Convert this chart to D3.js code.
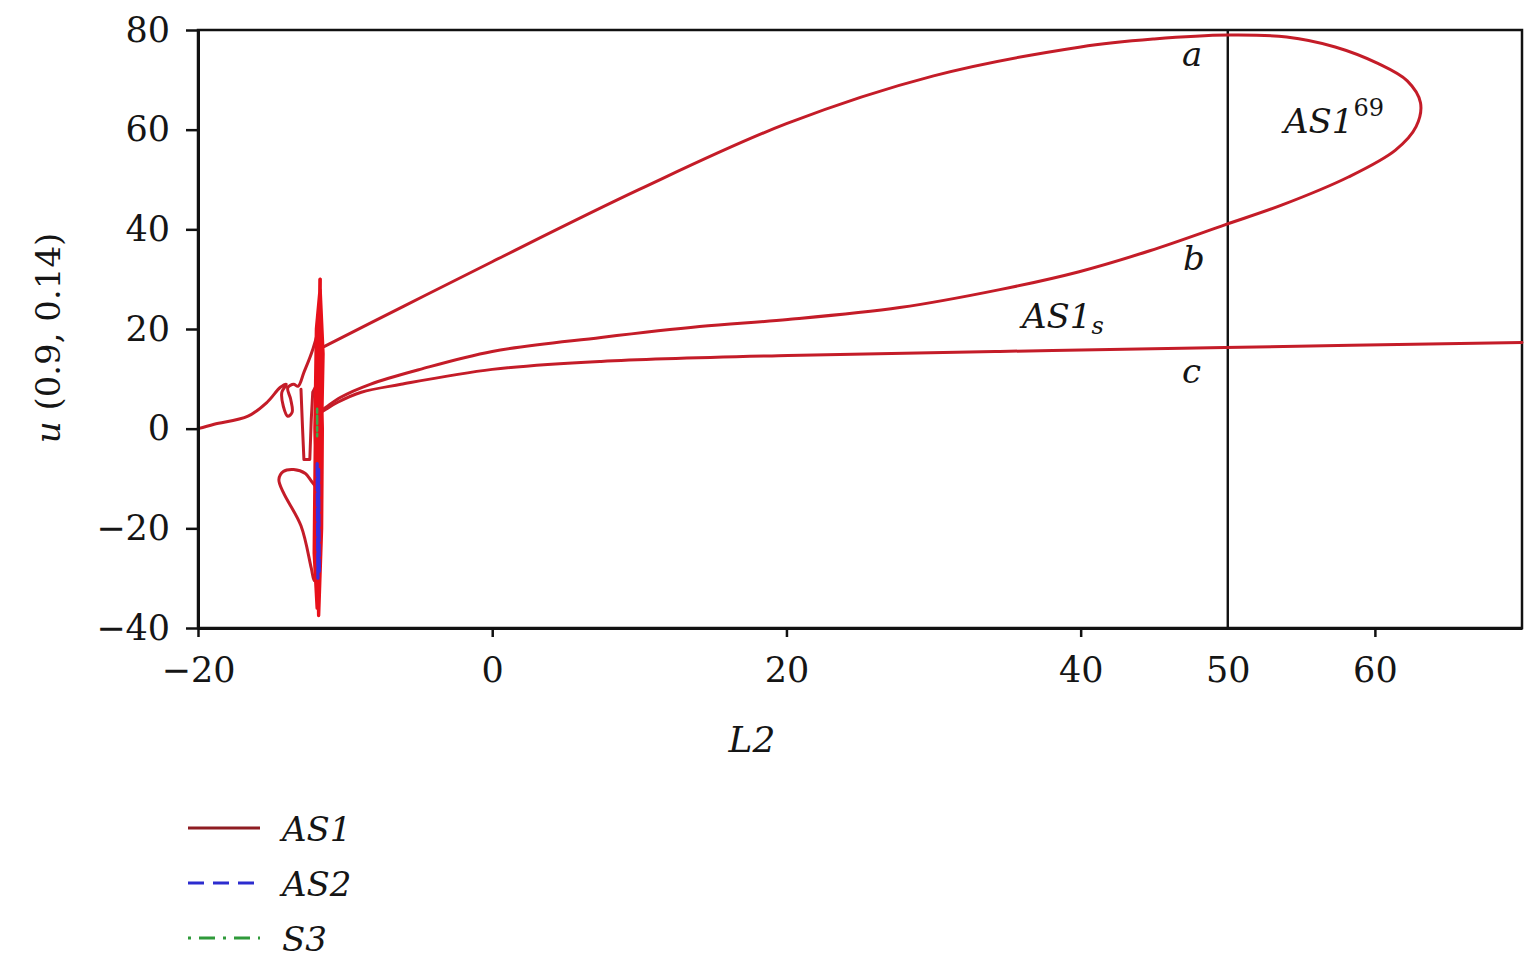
<!DOCTYPE html>
<html>
<head>
<meta charset="utf-8">
<script src="https://cdn.jsdelivr.net/npm/d3@7"></script>
<style>
  html, body { margin: 0; padding: 0; background: #fff; }
  svg text { font-family: "DejaVu Serif", "Liberation Serif", serif; fill: #151515; }
</style>
</head>
<body>
<svg id="chart" width="1524" height="964"></svg>
<script>
// ---- Data (L2, u) ----
const xTickValues = [-20, 0, 20, 40, 50, 60];
const yTickValues = [-40, -20, 0, 20, 40, 60, 80];
const xDomain = [-20, 70];
const yDomain = [-40, 80];
const markerL2 = 50;

// AS1: approach from the left, with small loop, into the tangle
const as1Start = [[-20,0],[-18.9,0.9],[-16.6,2.5],[-15.3,5.3],[-14.4,8.3],[-14.0,8.9],[-14.3,7.3],[-14.2,4.5],[-13.9,2.5],[-13.6,3.3],[-13.7,5.9],[-13.9,8.2],[-13.5,8.9],[-13.2,8.5],[-12.8,11.3],[-12.2,15.9],[-11.8,20.5],[-11.7,30]];
// AS1: tangled vertical spike near L2 = -12
const as1Spike = [[-11.7,30],[-11.85,10],[-11.95,-10],[-11.8,-37.5],[-11.6,-20],[-11.55,0],[-11.75,25],[-12.0,5],[-12.1,-25],[-11.9,-36],[-11.7,-15],[-11.5,15],[-11.7,28],[-11.95,20],[-12.05,0],[-11.85,-30],[-11.65,-5],[-11.6,12],[-11.8,22],[-12.0,-12],[-11.9,-33],[-11.75,-8],[-11.6,16.5]];
// AS1: small quadrilateral piece in the tangle
const as1Kink = [[-13.0,7.9],[-12.9,0.5],[-12.8,-6.2],[-12.4,-6.2],[-12.3,1.9],[-12.2,7.3],[-11.9,9]];
// AS1: lower teardrop loop
const as1Loop = [[-11.9,-12],[-12.3,-10.5],[-12.7,-9],[-13.5,-8.2],[-14.2,-8.6],[-14.5,-10.2],[-14.2,-12.8],[-13.0,-19.5],[-12.3,-28],[-12.1,-30.5],[-11.9,-28]];
// AS1: branch a -> AS1^69 loop -> branch b
const as1Upper = [[-11.4,16.5],[-6,24.6],[0,33.5],[10,48],[20,61.2],[30,70.8],[40,76.6],[45,78.2],[50,79],[54,78.6],[57.3,76.6],[60.2,73.3],[62.2,69.8],[63.1,65.4],[62.8,60.6],[61.4,55.9],[58.2,50.5],[53.7,44.9],[49.8,40.9],[44.7,35.7],[39.9,31.5],[34.5,27.9],[27.7,24.3],[20.1,21.9],[14.1,20.5],[7.4,18.3],[0,15.5],[-4.9,11.9],[-8.3,8.9],[-10.3,6.3],[-11.3,4.3],[-11.7,3.5]];
// AS1: branch c (AS1_s)
const as1Lower = [[-11.7,3.2],[-11.3,3.9],[-10.5,5.3],[-8.9,7.3],[-6.2,8.9],[0,11.9],[7.4,13.5],[20.1,14.7],[34.5,15.5],[49.8,16.3],[70,17.3]];
// AS2 and S3 inside the spike
const as2 = [[-11.9,-7],[-11.85,-30],[-11.8,-8],[-11.75,-29]];
const s3 = [[-11.9,4],[-11.9,-1.5]];

const legendNames = ["AS1", "AS2", "S3"];
const legendColors = ["#8e1c22", "#2c2ccf", "#2f9a3a"];
const legendDash = [null, "16,9", "3,8,16,8"];

// ---- Layout ----
const svg = d3.select("#chart");
const margin = {left: 198, right: 2, top: 30, bottom: 336};
const W = 1524, H = 964;
const x = d3.scaleLinear().domain(xDomain).range([margin.left, W - margin.right]);
const y = d3.scaleLinear().domain(yDomain).range([H - margin.bottom, margin.top]);

const line = d3.line().x(d => x(d[0])).y(d => y(d[1]));
const smooth = d3.line().x(d => x(d[0])).y(d => y(d[1])).curve(d3.curveCatmullRom.alpha(0.5));

// Frame
svg.append("rect")
  .attr("x", x(xDomain[0])).attr("y", y(yDomain[1]))
  .attr("width", x(xDomain[1]) - x(xDomain[0]))
  .attr("height", y(yDomain[0]) - y(yDomain[1]))
  .attr("fill", "none").attr("stroke", "#111").attr("stroke-width", 2.5);

// Marker vertical line at L2 = 50
svg.append("line")
  .attr("x1", x(markerL2)).attr("x2", x(markerL2))
  .attr("y1", y(yDomain[1])).attr("y2", y(yDomain[0]))
  .attr("stroke", "#111").attr("stroke-width", 2.4);

// Curves
const red = "#c41c28";
const g = svg.append("g").attr("fill", "none").attr("stroke-linejoin", "round").attr("stroke-linecap", "round");
g.append("path").attr("d", smooth(as1Start)).attr("stroke", red).attr("stroke-width", 3);
g.append("path").attr("d", line(as1Kink)).attr("stroke", red).attr("stroke-width", 3);
g.append("path").attr("d", smooth(as1Loop)).attr("stroke", red).attr("stroke-width", 3);
g.append("path").attr("d", smooth(as1Upper)).attr("stroke", red).attr("stroke-width", 3);
g.append("path").attr("d", smooth(as1Lower)).attr("stroke", red).attr("stroke-width", 3);
g.append("path").attr("d", line(as1Spike)).attr("stroke", "#e8101a").attr("stroke-width", 3.4);
g.append("path").attr("d", line(as2)).attr("stroke", "#3a2ee0").attr("stroke-width", 3.2).attr("stroke-dasharray", "12,3");
g.append("path").attr("d", line(s3)).attr("stroke", "#3aa84a").attr("stroke-width", 2.5).attr("stroke-dasharray", "4,3,8,3");

// Axes
const xAxis = svg.append("g")
  .attr("transform", `translate(0,${y(yDomain[0])})`)
  .call(d3.axisBottom(x).tickValues(xTickValues).tickSize(9).tickPadding(20).tickSizeOuter(0));
xAxis.select(".domain").attr("stroke", "#111").attr("stroke-width", 3);
xAxis.selectAll(".tick line").attr("stroke", "#111").attr("stroke-width", 2.5)
  .filter(d => d === markerL2).remove();
xAxis.selectAll(".tick text").attr("font-size", 35).attr("font-family", "DejaVu Serif").attr("fill", "#151515");

const yAxis = svg.append("g")
  .attr("transform", `translate(${x(xDomain[0])},0)`)
  .call(d3.axisLeft(y).tickValues(yTickValues).tickSize(12).tickPadding(16).tickSizeOuter(0));
yAxis.select(".domain").attr("stroke", "#111").attr("stroke-width", 3);
yAxis.selectAll(".tick line").attr("stroke", "#111").attr("stroke-width", 2.5);
yAxis.selectAll(".tick text").attr("font-size", 35).attr("font-family", "DejaVu Serif").attr("fill", "#151515");

// Axis titles
svg.append("text").attr("x", 752).attr("y", 752).attr("text-anchor", "middle")
  .attr("font-size", 36).attr("font-style", "italic").text("L2");

const yt = svg.append("text").attr("transform", "translate(60,338) rotate(-90)")
  .attr("text-anchor", "middle").attr("font-size", 34);
yt.append("tspan").attr("font-style", "italic").text("u");
yt.append("tspan").text(" (0.9, 0.14)");

// Annotations
function ann(xp, yp, txt) {
  return svg.append("text").attr("x", xp).attr("y", yp).attr("font-size", 34).attr("font-style", "italic").text(txt);
}
ann(1182, 66, "a");
ann(1183, 270, "b");
ann(1182, 383, "c");
const t69 = svg.append("text").attr("x", 1284).attr("y", 133).attr("font-size", 34);
t69.append("tspan").attr("font-style", "italic").text("AS1");
t69.append("tspan").attr("font-size", 24).attr("dy", -17).text("69");
const ts = svg.append("text").attr("x", 1022).attr("y", 328).attr("font-size", 34);
ts.append("tspan").attr("font-style", "italic").text("AS1");
ts.append("tspan").attr("font-style", "italic").attr("font-size", 24).attr("dy", 6).text("s");

// Legend
const leg = svg.append("g");
legendNames.forEach((name, i) => {
  const yy = 828 + i * 55;
  leg.append("line").attr("x1", 188).attr("x2", 260).attr("y1", yy).attr("y2", yy)
    .attr("stroke", legendColors[i]).attr("stroke-width", 3)
    .attr("stroke-dasharray", legendDash[i]);
  leg.append("text").attr("x", 282).attr("y", yy + 13).attr("font-size", 34)
    .attr("font-style", "italic").text(name);
});
</script>
</body>
</html>
